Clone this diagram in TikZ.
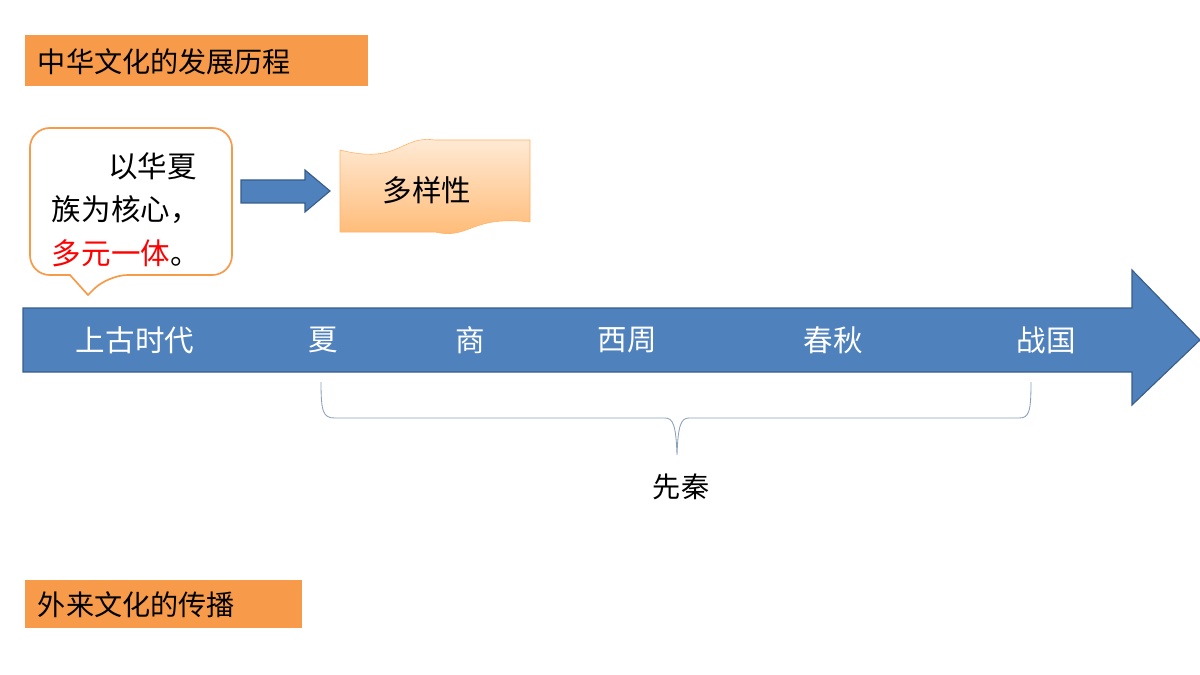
\documentclass[tikz,border=0pt]{standalone}
\usepackage{fontspec}
\newfontfamily\cjk{Noto Sans CJK SC}
\begin{document}
\begin{tikzpicture}[x=0.025cm,y=-0.025cm,
  title/.style={fill=orange!75!yellow!90!red, draw=none, anchor=west, font=\cjk\fontsize{20}{24}\selectfont, inner sep=0pt},
  tl/.style={text=white, font=\cjk\fontsize{21}{24}\selectfont}]
\definecolor{tbox}{HTML}{F79A4A}
\definecolor{ablue}{HTML}{4F81BD}
\definecolor{adark}{HTML}{385D8A}
\useasboundingbox (0,0) rectangle (1200,675);
\fill[tbox] (25,35) rectangle (368,86);
\node[anchor=west, font=\cjk\fontsize{20}{24}\selectfont] (t1) at (33,62) {中华文化的发展历程};
% callout
\draw[draw=tbox, fill=white, line width=1.2pt, rounded corners=14pt] (30,128) -- (232,128) -- (232,275) -- (108,275) [sharp corners]-- (88,295) -- (70,275) [rounded corners=14pt] -- (30,275) -- cycle;
\node[anchor=east, font=\cjk\fontsize{21}{24}\selectfont] (c1) at (202,166) {以华夏};
\node[anchor=west, font=\cjk\fontsize{21}{24}\selectfont] (c2) at (47,210) {族为核心，};
\node[anchor=west, font=\cjk\fontsize{21}{24}\selectfont] (c3) at (47,253) {\textcolor{red}{多元一体}。};
% block arrow
\draw[fill=ablue, draw=adark, line width=0.8pt] (241,180) -- (305,180) -- (305,170) -- (330,191) -- (305,212) -- (305,203) -- (241,203) -- cycle;
% wave
\shade[top color=orange!15, bottom color=orange!55, draw=orange!60] (340,150) .. controls (400,165) and (400,135) .. (435,140) -- (530,140) -- (530,222) .. controls (470,215) and (470,240) .. (435,232) -- (340,232) -- cycle;
\node[font=\cjk\fontsize{21}{24}\selectfont] (w) at (427,190) {多样性};
% timeline
\draw[fill=ablue, draw=adark, line width=0.8pt] (23,308) -- (1132,308) -- (1132,270) -- (1200,340) -- (1132,405) -- (1132,372) -- (23,372) -- cycle;
\node[tl] (a) at (135,340) {上古时代};
\node[tl] (b) at (323,340) {夏};
\node[tl] (c) at (470,340) {商};
\node[tl] (d) at (627,340) {西周};
\node[tl] (e) at (833,340) {春秋};
\node[tl] (f) at (1046,340) {战国};
% brace
\draw[draw=adark!60, line width=0.6pt] (321,382) .. controls (321,412) and (323,418) .. (335,418) -- (665,418) .. controls (673,418) and (676,425) .. (677,455) .. controls (678,425) and (681,418) .. (689,418) -- (1019,418) .. controls (1029,418) and (1031,412) .. (1031,382);
\node[font=\cjk\fontsize{20}{24}\selectfont] (q) at (681,487) {先秦};
\fill[tbox] (25,580) rectangle (302,628);
\node[anchor=west, font=\cjk\fontsize{20}{24}\selectfont] (t2) at (33,605) {外来文化的传播};
\end{tikzpicture}
\end{document}
